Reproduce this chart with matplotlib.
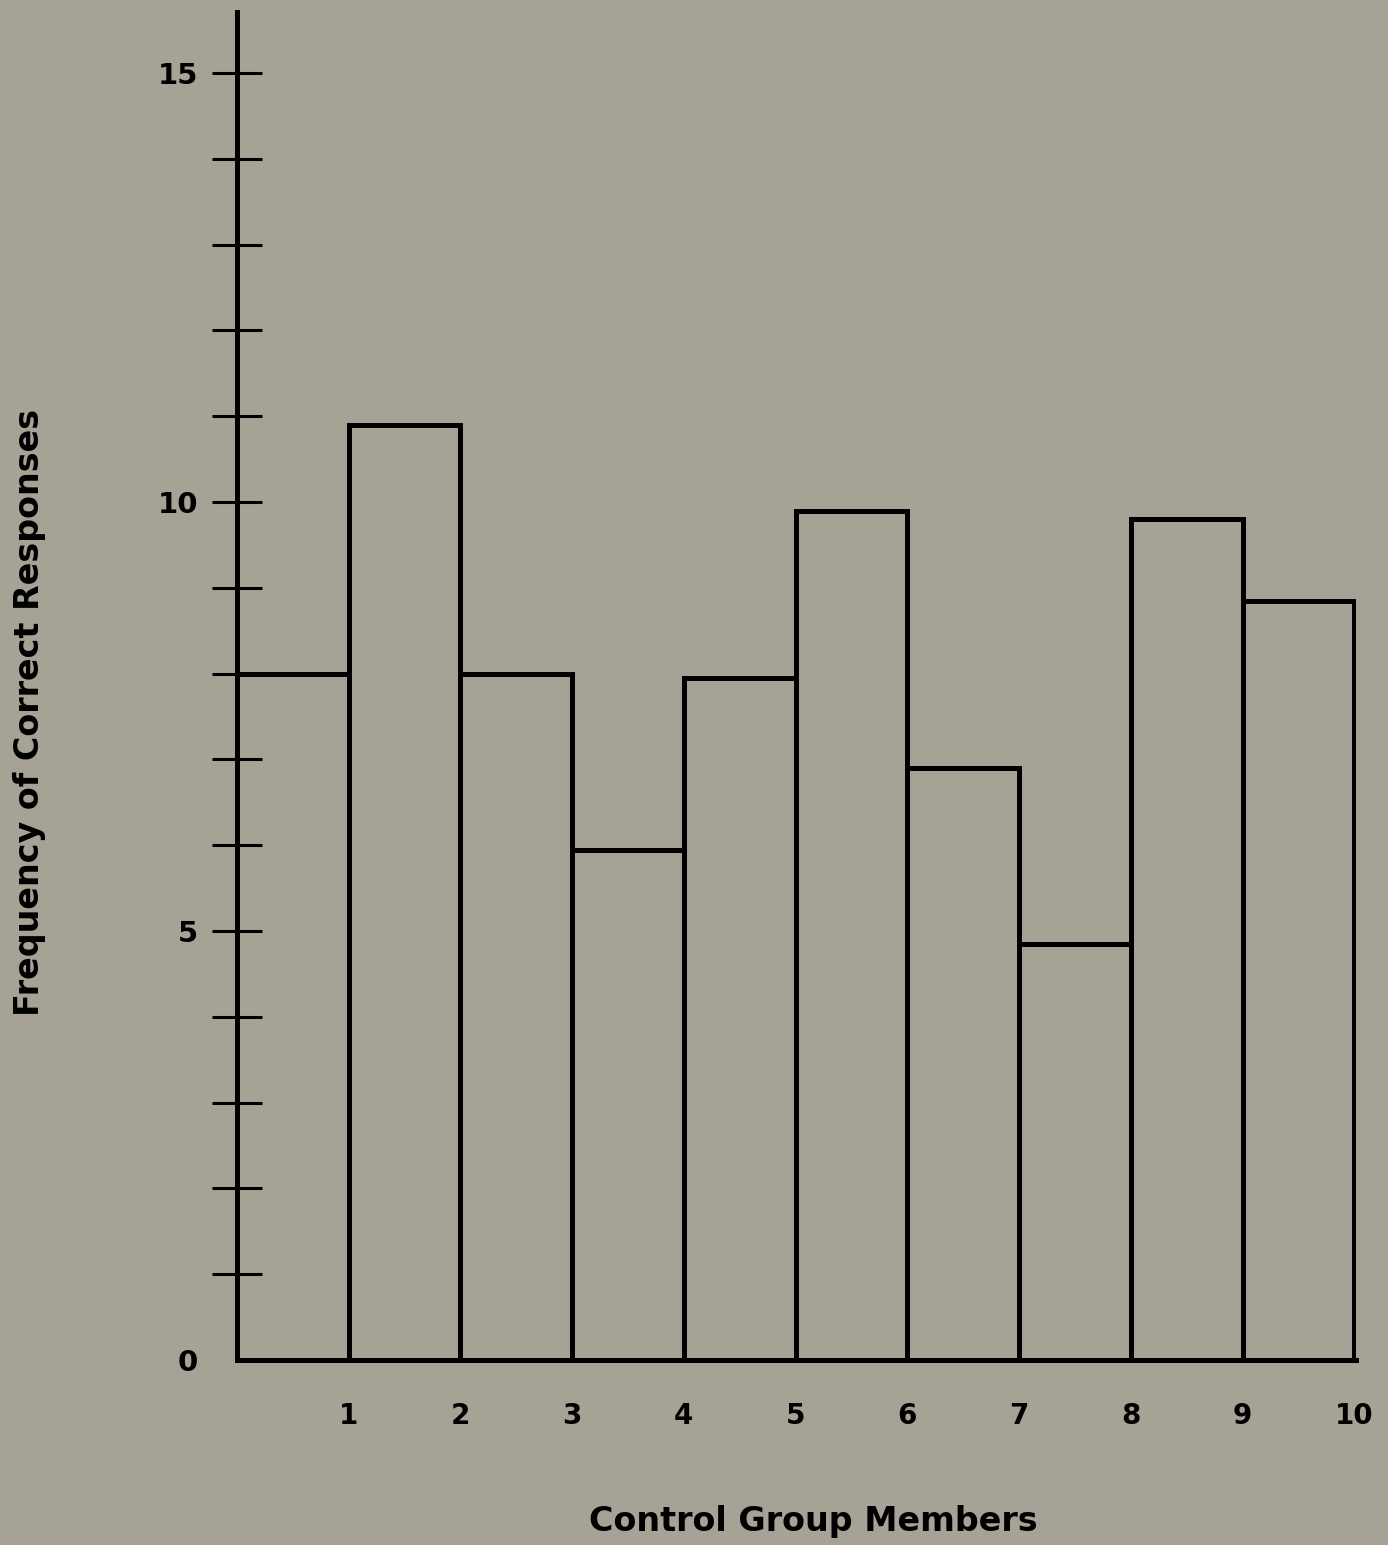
import numpy as np
import matplotlib.pyplot as plt

# Data
members = [1, 2, 3, 4, 5, 6, 7, 8, 9, 10]
correct = [8.0, 10.9, 8.0, 5.95, 7.95, 9.9, 6.9, 4.85, 9.8, 8.85]
y_ticks = list(range(0, 16))
y_labels = ["0", "", "", "", "", "5", "", "", "", "", "10", "", "", "", "", "15"]

BG = "#a6a295"

fig = plt.figure(figsize=(13.88, 15.45), dpi=100, facecolor=BG)
ax = fig.add_axes([0.1707, 0.1197, 0.8066, 0.8725], facecolor=BG)

# each member's bar ends at its number
left = np.array(members) - 1
ax.bar(left, correct, width=1.0, align="edge", facecolor="none",
       edgecolor="black", linewidth=3.6)

ax.set_xlim(0, 10.02)
ax.set_ylim(0, 15.71)

for side in ["top", "right"]:
    ax.spines[side].set_visible(False)
ax.spines["left"].set_linewidth(3.6)
ax.spines["bottom"].set_linewidth(3.6)

ax.set_yticks(y_ticks)
ax.set_yticklabels(y_labels)
ax.tick_params(axis="y", direction="inout", length=36, width=2.2, pad=10,
               labelsize=21)
# no tick mark at zero, only the label
ax.yaxis.get_major_ticks()[0].tick1line.set_visible(False)
ax.set_xticks(members)
ax.set_xticklabels([str(m) for m in members])
ax.tick_params(axis="x", length=0, pad=30, labelsize=20)
for lbl in ax.get_xticklabels() + ax.get_yticklabels():
    lbl.set_fontweight("bold")

fig.text(0.5857, 0.015, "Control Group Members", ha="center", va="center",
         fontsize=24, fontweight="bold")
fig.text(0.0216, 0.539, "Frequency of Correct Responses", ha="center",
         va="center", rotation=90, fontsize=24, fontweight="bold")

plt.savefig("out.png", dpi=100, facecolor=BG)
